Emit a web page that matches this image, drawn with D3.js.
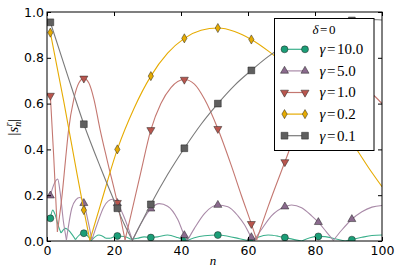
<!DOCTYPE html>
<html>
<head>
<meta charset="utf-8">
<script src="https://cdn.jsdelivr.net/npm/d3@7"></script>
<style>
  body { margin: 0; background: #fff; }
  svg { display: block; }
</style>
</head>
<body>
<div id="main"></div>
<script>
// [n, |s_n|], one list per gamma
const gamma10 = [[1,0.099],[1.7,0.135],[2.5,0.112],[3.4,0.065],[4.2,0.035],[5.5,0.055],[7,0.038],[8.5,0.006],[10,0.03],[11,0.034],[12,0.024],[13.2,0.002],[15.5,0.026],[17.5,0.012],[19,0.012],[21,0.022],[23,0.02],[25,0.008],[27,0.012],[29,0.018],[31,0.015],[33,0.018],[36,0.026],[39,0.015],[41,0.004],[41.6,0],[44,0.014],[47,0.023],[51,0.026],[54,0.021],[57.5,0.01],[60.6,0],[61,0.002],[63,0.016],[66,0.026],[69,0.021],[71,0.015],[73.5,0.007],[76,0],[78.5,0.014],[81,0.02],[83,0.019],[86,0.01],[89,0],[91,0.006],[94,0.016],[97,0.024],[100,0.026]];
const gamma5 = [[1,0.198],[2,0.245],[3.2,0.27],[3.9,0.215],[4.9,0.085],[5.8,0.005],[7.4,0.143],[8.6,0.18],[9.8,0.19],[11,0.165],[12.3,0.084],[13.4,0.005],[15,0.075],[17,0.15],[19.5,0.182],[21,0.165],[23,0.105],[25.5,0.003],[28,0.075],[31,0.141],[33.5,0.163],[36,0.152],[39,0.095],[41,0.025],[41.9,0.002],[44,0.055],[47,0.12],[51,0.157],[54,0.15],[57,0.11],[59,0.07],[61,0.016],[61.8,0.002],[64,0.05],[67,0.11],[71,0.15],[73,0.157],[76,0.145],[79,0.11],[81,0.082],[83.5,0.038],[85.5,0.003],[88,0.048],[91,0.095],[94,0.128],[97,0.148],[100,0.155]];
const gamma1 = [[1,0.635],[2,0.37],[3.1,0.04],[4.5,0.2],[5.5,0.35],[6.4,0.48],[8,0.62],[9.5,0.69],[11,0.71],[12.5,0.69],[14,0.62],[15.8,0.49],[18,0.35],[21,0.167],[23.3,0.005],[25,0.11],[28,0.3],[31,0.485],[34,0.6],[37,0.67],[41,0.705],[44,0.685],[47,0.62],[51,0.49],[55,0.33],[58,0.2],[61,0.075],[62.6,0.005],[66,0.15],[71,0.345],[74,0.46],[78,0.58],[82,0.66],[86,0.7],[90,0.7],[94,0.675],[98,0.63],[100,0.6]];
const gamma02 = [[1,0.91],[5,0.61],[9,0.29],[11,0.135],[12.8,0.003],[16,0.16],[21,0.4],[26,0.58],[31,0.72],[36,0.82],[41,0.885],[46,0.92],[51,0.93],[56,0.915],[61,0.88],[66,0.83],[71,0.77],[76,0.69],[81,0.61],[86,0.52],[91,0.43],[96,0.32],[100,0.237]];
const gamma01 = [[1,0.955],[6,0.73],[11,0.51],[16,0.32],[21,0.143],[23,0.075],[25.5,0.003],[28,0.075],[31,0.16],[36,0.29],[41,0.405],[46,0.51],[51,0.6],[56,0.68],[61,0.745],[66,0.805],[71,0.855],[76,0.895],[81,0.928],[86,0.95],[91,0.963],[96,0.967],[100,0.965]];

const gammaLabels = ['10.0', '5.0', '1.0', '0.2', '0.1'];
const xTicks = [0, 20, 40, 60, 80, 100];
const yTicks = [0, 0.2, 0.4, 0.6, 0.8, 1.0];

const series = [
    { label: gammaLabels[0], data: gamma10, fill: '#1b9e77', line: '#3bb08c', shape: 'circle' },
    { label: gammaLabels[1], data: gamma5, fill: '#8a6a8d', line: '#a98aa8', shape: 'up' },
    { label: gammaLabels[2], data: gamma1, fill: '#b9564e', line: '#c47770', shape: 'down' },
    { label: gammaLabels[3], data: gamma02, fill: '#e6ab02', line: '#e6ab02', shape: 'diamond' },
    { label: gammaLabels[4], data: gamma01, fill: '#5f5f5f', line: '#7a7a7a', shape: 'square' }
];

const W = 399, H = 274;
const x = d3.scaleLinear().domain([0, 100]).range([47, 382]);
const y = d3.scaleLinear().domain([0, 1]).range([241, 12]);

const svg = d3.select('#main').append('svg').attr('width', W).attr('height', H);

svg.append('defs').append('clipPath').attr('id', 'plot')
    .append('rect').attr('x', 47).attr('y', 12).attr('width', 335).attr('height', 229);

// split at local minima so the dips stay sharp
const pieces = pts => {
    const out = [];
    let cur = [pts[0]];
    for (let i = 1; i < pts.length; i++) {
        cur.push(pts[i]);
        if (i < pts.length - 1 && pts[i][1] <= pts[i - 1][1] && pts[i][1] <= pts[i + 1][1]) {
            out.push(cur);
            cur = [pts[i]];
        }
    }
    out.push(cur);
    return out;
};

const line = d3.line().x(d => x(d[0])).y(d => y(d[1])).curve(d3.curveMonotoneX);

const symbolPath = shape => {
    if (shape === 'circle') return d3.symbol(d3.symbolCircle, 38)();
    if (shape === 'square') return d3.symbol(d3.symbolSquare, 46)();
    if (shape === 'diamond') return d3.symbol(d3.symbolDiamond, 24)();
    return d3.symbol(d3.symbolTriangle, 28)();
};
const symbolTransform = (shape, px, py) =>
    'translate(' + px + ',' + py + ')' + (shape === 'down' ? ' rotate(180)' : '');

const plot = svg.append('g').attr('clip-path', 'url(#plot)');

series.forEach(s => {
    const g = plot.append('g');
    g.selectAll('path.ln')
        .data(pieces(s.data))
        .enter()
        .append('path')
        .attr('class', 'ln')
        .attr('d', line)
        .attr('fill', 'none')
        .attr('stroke', s.line)
        .attr('stroke-width', 1.1);
    g.selectAll('path.mk')
        .data(s.data.filter(d => Number.isInteger(d[0]) && d[0] % 10 === 1))
        .enter()
        .append('path')
        .attr('class', 'mk')
        .attr('d', symbolPath(s.shape))
        .attr('transform', d => symbolTransform(s.shape, x(d[0]), y(d[1])))
        .attr('fill', s.fill)
        .attr('stroke', '#222')
        .attr('stroke-width', 0.5);
});

// axes, ticks pointing inwards on all four sides
const fontTick = '"DejaVu Sans", sans-serif';
svg.append('g').attr('transform', 'translate(0,241)')
    .call(d3.axisBottom(x).tickValues(xTicks).tickFormat(d3.format('d')).tickSizeInner(-4).tickSizeOuter(0).tickPadding(5));
svg.append('g').attr('transform', 'translate(47,0)')
    .call(d3.axisLeft(y).tickValues(yTicks).tickFormat(d3.format('.1f')).tickSizeInner(-4).tickSizeOuter(0).tickPadding(3));
svg.append('g').attr('transform', 'translate(0,12)')
    .call(d3.axisTop(x).tickValues(xTicks).tickFormat('').tickSizeInner(-4).tickSizeOuter(0));
svg.append('g').attr('transform', 'translate(382,0)')
    .call(d3.axisRight(y).tickValues(yTicks).tickFormat('').tickSizeInner(-4).tickSizeOuter(0));

svg.selectAll('.domain').remove();
svg.selectAll('.tick line').attr('stroke', '#000');
svg.selectAll('.tick text').attr('fill', '#000').style('font-family', fontTick).style('font-size', '12.5px');

svg.append('rect').attr('x', 47).attr('y', 12).attr('width', 335).attr('height', 229)
    .attr('fill', 'none').attr('stroke', '#000').attr('stroke-width', 1);

// axis labels
const serif = '"Liberation Serif", "DejaVu Serif", serif';
svg.append('text')
    .attr('x', 213).attr('y', 265)
    .attr('text-anchor', 'middle')
    .style('font-family', serif).style('font-style', 'italic').style('font-size', '13px')
    .text('n');

const ylab = svg.append('text')
    .attr('transform', 'translate(18,127) rotate(-90)')
    .attr('text-anchor', 'middle')
    .style('font-family', serif).style('font-size', '15px');
ylab.append('tspan').text('|');
ylab.append('tspan').style('font-style', 'italic').text('s');
ylab.append('tspan').style('font-style', 'italic').style('font-size', '10px').attr('dy', -6).text('r');
ylab.append('tspan').style('font-style', 'italic').style('font-size', '10px').attr('dx', -4).attr('dy', 9).text('n');
ylab.append('tspan').attr('dy', -3).text('|');

// legend
const leg = svg.append('g');
leg.append('rect').attr('x', 274.5).attr('y', 18.5).attr('width', 99.5).attr('height', 132)
    .attr('fill', '#fff').attr('stroke', '#000').attr('stroke-width', 1);

const title = leg.append('text').attr('x', 324).attr('y', 34).attr('text-anchor', 'middle')
    .style('font-family', serif).style('font-size', '13px');
title.append('tspan').style('font-style', 'italic').text('δ');
title.append('tspan').attr('dx', 1.5).text('=');
title.append('tspan').attr('dx', 1.5).text('0');

const rows = leg.selectAll('g.row')
    .data(series)
    .enter()
    .append('g')
    .attr('class', 'row')
    .attr('transform', (d, i) => 'translate(0,' + (49.3 + i * 21.6) + ')');

rows.append('line')
    .attr('x1', 284.5).attr('x2', 305).attr('y1', 0).attr('y2', 0)
    .attr('stroke', d => d.line).attr('stroke-width', 1.2);
[284.5, 305].forEach(px => {
    rows.append('path')
        .attr('d', d => symbolPath(d.shape))
        .attr('transform', d => symbolTransform(d.shape, px, 0))
        .attr('fill', d => d.fill)
        .attr('stroke', '#222')
        .attr('stroke-width', 0.5);
});

const lt = rows.append('text')
    .attr('x', 319.5).attr('y', 4.8)
    .style('font-family', serif).style('font-size', '15px');
lt.append('tspan').style('font-style', 'italic').text('γ');
lt.append('tspan').attr('dx', 1.5).text('=');
lt.append('tspan').attr('dx', 1.5).text(d => d.label);
</script>
</body>
</html>
